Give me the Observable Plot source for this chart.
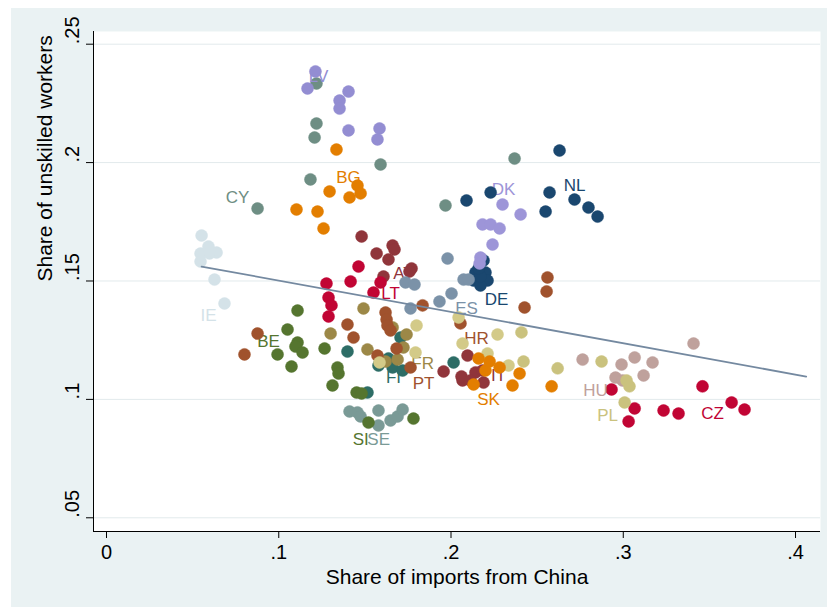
<!DOCTYPE html>
<html>
<head>
<meta charset="utf-8">
<script src="https://cdn.jsdelivr.net/npm/d3@7"></script>
<script src="https://cdn.jsdelivr.net/npm/@observablehq/plot@0.6"></script>
<style>
  html, body { margin: 0; padding: 0; background: #fff; }
  #chart { position: absolute; left: 11px; top: 8px; }
</style>
</head>
<body>
<div id="chart"></div>
<script>
// Share of imports from China (x) vs share of unskilled workers (y), one point per country-year
const AT = [[0.1481,0.1688],[0.1661,0.1650],[0.1672,0.1633],[0.1568,0.1616],[0.1637,0.1591],[0.1771,0.1553],[0.1759,0.1540],[0.1608,0.1519]];
const BE = [[0.1109,0.1375],[0.1051,0.1295],[0.1109,0.1240],[0.1097,0.1223],[0.1138,0.1198],[0.0993,0.1190],[0.1074,0.1139],[0.1266,0.1215]];
const BG = [[0.1335,0.2055],[0.1457,0.1903],[0.1475,0.1870],[0.1295,0.1878],[0.1411,0.1853],[0.1103,0.1802],[0.1225,0.1793],[0.1260,0.1722]];
const CY = [[0.1219,0.2334],[0.1219,0.2165],[0.1208,0.2106],[0.1591,0.1992],[0.1184,0.1929],[0.0877,0.1806],[0.2369,0.2017],[0.1968,0.1819]];
const CZ = [[0.2932,0.1042],[0.3066,0.0962],[0.3031,0.0907],[0.3234,0.0953],[0.3321,0.0940],[0.3460,0.1055],[0.3629,0.0987],[0.3704,0.0957]];
const DE = [[0.2142,0.1536],[0.2200,0.1536],[0.2131,0.1502],[0.2212,0.1502],[0.2171,0.1481],[0.2171,0.1519],[0.2189,0.1587],[0.2160,0.1553]];
const DK = [[0.2299,0.1823],[0.2404,0.1781],[0.2183,0.1739],[0.2230,0.1739],[0.2282,0.1722],[0.2241,0.1654],[0.2171,0.1599],[0.2166,0.1574]];
const ES = [[0.1980,0.1595],[0.2073,0.1506],[0.2102,0.1506],[0.2003,0.1447],[0.1933,0.1413],[0.1765,0.1384],[0.1736,0.1494],[0.1788,0.1485]];
const FI = [[0.1399,0.1202],[0.1707,0.1261],[0.1637,0.1173],[0.1579,0.1143],[0.1661,0.1135],[0.1719,0.1122],[0.1515,0.1029],[0.2015,0.1156]];
const FR = [[0.1301,0.1278],[0.1492,0.1384],[0.1515,0.1211],[0.1661,0.1304],[0.1742,0.1274],[0.1724,0.1219],[0.1690,0.1168],[0.1620,0.1160]];
const HR = [[0.2560,0.1515],[0.2555,0.1456],[0.2427,0.1388],[0.2055,0.1321],[0.1835,0.1397],[0.1684,0.1215],[0.1765,0.1135],[0.1573,0.1185]];
const HU = [[0.2764,0.1168],[0.2990,0.1147],[0.3066,0.1177],[0.3170,0.1156],[0.3408,0.1236],[0.2955,0.1092],[0.3118,0.1101],[0.2996,0.1080]];
const IE = [[0.0552,0.1692],[0.0592,0.1646],[0.0639,0.1620],[0.0546,0.1616],[0.0546,0.1582],[0.0627,0.1506],[0.0685,0.1405],[0.0598,0.1616]];
const IT = [[0.2096,0.1185],[0.1957,0.1118],[0.2067,0.1080],[0.2061,0.1097],[0.2142,0.1114],[0.2189,0.1071],[0.2183,0.1122],[0.2113,0.1080]];
const LT = [[0.1463,0.1561],[0.1417,0.1498],[0.1591,0.1494],[0.1277,0.1489],[0.1550,0.1451],[0.1289,0.1430],[0.1306,0.1397],[0.1289,0.1350]];
const LV = [[0.1213,0.2385],[0.1167,0.2313],[0.1405,0.2300],[0.1353,0.2262],[0.1353,0.2228],[0.1405,0.2136],[0.1585,0.2144],[0.1573,0.2098]];
const NL = [[0.2630,0.2051],[0.2572,0.1874],[0.2717,0.1844],[0.2549,0.1793],[0.2798,0.1810],[0.2851,0.1772],[0.2230,0.1874],[0.2090,0.1840]];
const PL = [[0.2874,0.1160],[0.3019,0.1080],[0.3036,0.1055],[0.3008,0.0987],[0.2619,0.1131],[0.2409,0.1283],[0.2421,0.1160]];
const PT = [[0.0877,0.1278],[0.0801,0.1190],[0.1399,0.1316],[0.1434,0.1261],[0.1620,0.1367],[0.1626,0.1337],[0.1631,0.1312],[0.1649,0.1291]];
const OTHER = [[0.2270,0.1274],[0.2212,0.1194],[0.2067,0.1236],[0.2044,0.1346],[0.1800,0.1312],[0.1794,0.1198],[0.1585,0.1156],[0.2334,0.1143]];
const SE = [[0.1411,0.0949],[0.1457,0.0945],[0.1475,0.0928],[0.1579,0.0953],[0.1579,0.0890],[0.1649,0.0911],[0.1690,0.0928],[0.1719,0.0957]];
const SI = [[0.1341,0.1135],[0.1347,0.1109],[0.1312,0.1059],[0.1452,0.1029],[0.1481,0.1025],[0.1521,0.0902],[0.1782,0.0919]];
const SK = [[0.2160,0.1173],[0.2282,0.1135],[0.2200,0.1122],[0.2398,0.1109],[0.2131,0.1063],[0.2357,0.1059],[0.2584,0.1055],[0.2224,0.1160]];

// Series in drawing order (later series sit on top of earlier ones)
const seriesOrder = [
  ["AT", AT], ["BE", BE], ["BG", BG], ["CY", CY], ["CZ", CZ], ["DE", DE], ["DK", DK],
  ["ES", ES], ["FI", FI], ["FR", FR], ["HR", HR], ["HU", HU], ["IE", IE], ["IT", IT],
  ["LT", LT], ["LV", LV], ["NL", NL], ["PL", PL], ["PT", PT], ["OTHER", OTHER],
  ["SE", SE], ["SI", SI], ["SK", SK]
];

// Where each country code is written (data coordinates)
const labelAnchor = {
  AT: [0.1724, 0.1532], BE: [0.0941, 0.1245], BG: [0.1405, 0.1937], CY: [0.0761, 0.1853],
  CZ: [0.3518, 0.0940], DE: [0.2264, 0.1422], DK: [0.2305, 0.1886], ES: [0.2090, 0.1384],
  FI: [0.1666, 0.1092], FR: [0.1835, 0.1152], HR: [0.2148, 0.1257], HU: [0.2839, 0.1038],
  IE: [0.0592, 0.1354], IT: [0.2276, 0.1101], LT: [0.1649, 0.1447], LV: [0.1231, 0.2364],
  NL: [0.2717, 0.1903], PL: [0.2909, 0.0932], PT: [0.1841, 0.1067], SE: [0.1580, 0.0831],
  SI: [0.1476, 0.0831], SK: [0.2218, 0.1000]
};

// Linear fit of y on x and the x range it is drawn over
const fitIntercept = 0.1634;
const fitSlope = -0.1323;
const fitRange = [0.0552, 0.4062];

// Axis ticks
const xTicks = [0, 0.1, 0.2, 0.3, 0.4];
const yTicks = [0.05, 0.1, 0.15, 0.2, 0.25];
const xDomain = [-0.00755, 0.4145];
const yDomain = [0.04421, 0.25536];

// Stata s2color-style palette
const palette = {
  DE: "#1a476f", NL: "#1a476f",
  AT: "#90353b", IT: "#90353b",
  BE: "#55752f", SI: "#55752f",
  BG: "#e37e00", SK: "#e37e00",
  CY: "#6e8e84", SE: "#7a9a96",
  LT: "#c10534", CZ: "#c10534",
  LV: "#938dd2", DK: "#9d95d8",
  PL: "#cac27e", OTHER: "#d3ca88",
  HR: "#a0522d", PT: "#a0522d",
  ES: "#7b92a8", FI: "#2d6d66", FR: "#9c8847", HU: "#bfa19c", IE: "#d4e2e8"
};

const tickFmt = d => d === 0 ? "0" : String(d).replace(/^0/, "");
const fitLine = fitRange.map(x => ({x, y: fitIntercept + fitSlope * x}));

const seriesMarks = seriesOrder.flatMap(([code, pts]) => {
  const m = [Plot.dot(pts, {x: d => d[0], y: d => d[1], r: 6, fill: palette[code], stroke: palette[code], strokeWidth: 0.5})];
  if (labelAnchor[code]) {
    m.push(Plot.text([labelAnchor[code]], {
      x: d => d[0], y: d => d[1], text: () => code,
      fill: palette[code], fontSize: 17, textAnchor: "middle", lineAnchor: "middle"
    }));
  }
  return m;
});

const chart = Plot.plot({
  width: 816,
  height: 599,
  marginLeft: 82,
  marginRight: 7,
  marginTop: 23,
  marginBottom: 76,
  style: {background: "#eaf2f3", fontFamily: "'Liberation Sans', Arial, Helvetica, sans-serif", color: "#000"},
  x: {domain: xDomain},
  y: {domain: yDomain},
  marks: [
    Plot.frame({fill: "white", stroke: null}),
    Plot.gridY(yTicks, {stroke: "#e2eaec", strokeOpacity: 1, strokeWidth: 1}),
    ...seriesMarks,
    Plot.line(fitLine, {x: "x", y: "y", stroke: "#7489a0", strokeWidth: 1.8}),
    Plot.ruleX([xDomain[0]], {stroke: "#000", strokeWidth: 1}),
    Plot.ruleY([yDomain[0]], {stroke: "#000", strokeWidth: 1}),
    Plot.axisX(xTicks, {tickSize: 7, tickFormat: () => "", label: null, stroke: "#000"}),
    Plot.axisY(yTicks, {tickSize: 7, tickFormat: () => "", label: null, stroke: "#000"}),
    Plot.text(xTicks, {x: d => d, text: tickFmt, frameAnchor: "bottom", dy: 21, fontSize: 20, lineAnchor: "middle", fill: "#000"}),
    Plot.text(yTicks, {y: d => d, text: tickFmt, frameAnchor: "left", dx: -21, rotate: -90, fontSize: 20, lineAnchor: "middle", fill: "#000"}),
    Plot.text(["Share of imports from China"], {frameAnchor: "bottom", dy: 46, fontSize: 21, lineAnchor: "middle", fill: "#000"}),
    Plot.text(["Share of unskilled workers"], {frameAnchor: "left", dx: -48, rotate: -90, fontSize: 21, lineAnchor: "middle", fill: "#000"})
  ]
});

document.getElementById("chart").appendChild(chart);
</script>
</body>
</html>
